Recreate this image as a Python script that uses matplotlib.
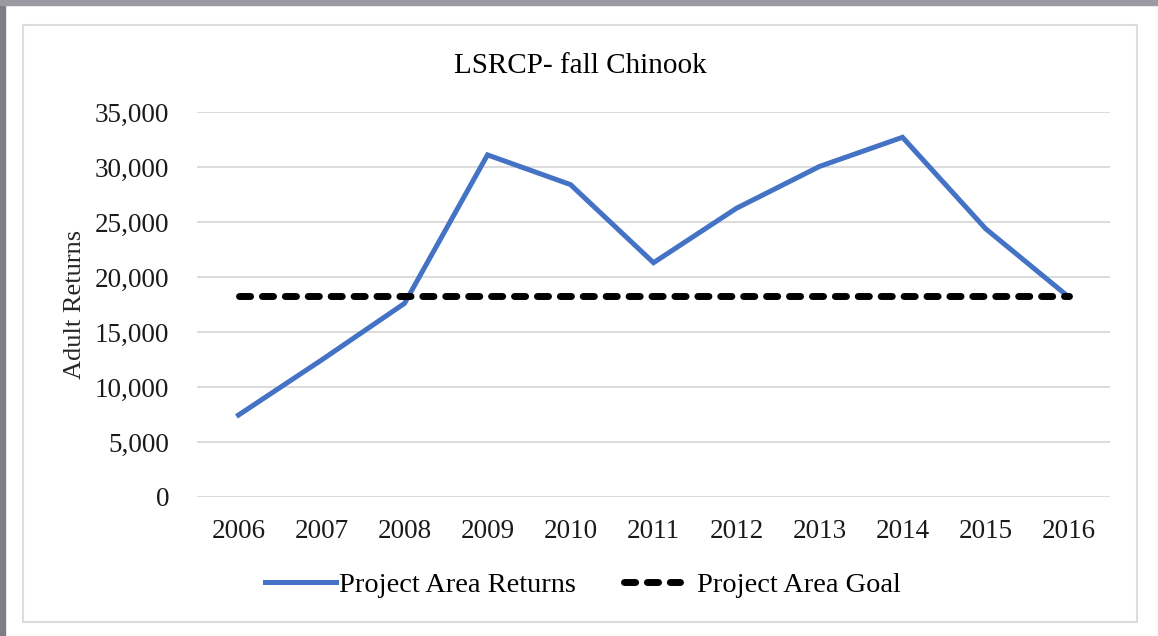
import matplotlib
matplotlib.use('Agg')
import matplotlib.pyplot as plt
import numpy as np
from matplotlib.patches import Rectangle
from matplotlib.ticker import FuncFormatter

years = ['2006', '2007', '2008', '2009', '2010', '2011',
         '2012', '2013', '2014', '2015', '2016']
returns = [7450, 12450, 17600, 31100, 28400, 21300,
           26250, 30050, 32700, 24400, 18200]
goal = [18300] * len(years)

plt.rcParams['font.family'] = ['Liberation Serif', 'DejaVu Serif']

fig = plt.figure(figsize=(11.58, 6.36), dpi=100)
W, H = 1158, 636

# outer screenshot frame bits
fig.patches.append(Rectangle((0, 0), 5 / W, 1, transform=fig.transFigure,
                             color='#807d86', zorder=0))
fig.patches.append(Rectangle((0, 1 - 5 / H), 1, 5 / H, transform=fig.transFigure,
                             color='#9b99a1', zorder=0))
# chart border
fig.patches.append(Rectangle((23 / W, 1 - 622 / H), (1137 - 23) / W, (622 - 25) / H,
                             transform=fig.transFigure, fill=False,
                             edgecolor='#dcdcdc', lw=1.5, zorder=1))

ax = fig.add_axes([197 / W, 1 - 497 / H, (1110 - 197) / W, (497 - 112) / H])

x = list(range(len(years)))
ax.plot(x, returns, color='#4472C4', lw=3.6, solid_joinstyle='miter',
        label='Project Area Returns', zorder=3)
ax.plot(x, goal, color='black', lw=5, linestyle=(0, (1.6, 1.7)),
        dash_capstyle='round', label='Project Area Goal', zorder=4)

ax.set_xlim(-0.5, len(years) - 0.5)
ax.set_ylim(0, 35000)
ax.set_yticks(range(0, 35001, 5000))
ax.yaxis.set_major_formatter(FuncFormatter(lambda v, p: f'{int(v):,}'))
ax.set_xticks(x)
ax.set_xticklabels(years)
ax.tick_params(axis='both', length=0, labelsize=19.5, colors='#1a1a1a')
ax.tick_params(axis='y', pad=20)
ax.tick_params(axis='x', pad=16)
ax.grid(axis='y', color='#d9d9d9', lw=1.3)
ax.set_axisbelow(True)
for s in ax.spines.values():
    s.set_visible(False)

ax.set_ylabel('Adult Returns', fontsize=19, color='#262626')
ax.yaxis.set_label_coords(-0.122, 0.5)

fig.text(580 / W, 1 - 66 / H, 'LSRCP- fall Chinook', ha='center', va='center',
         fontsize=21, color='black')

leg = fig.legend(loc='center', bbox_to_anchor=(583 / W, 1 - 585 / H), ncol=2,
                 frameon=False, fontsize=20.4, handlelength=2.5, handletextpad=0.1,
                 columnspacing=1.7)
# shorten the dashed handle a little so it ends on a full dash
gl = leg.get_lines()[1]
xd = np.asarray(gl.get_xdata(), dtype=float)
gl.set_xdata(np.linspace(xd[0], xd[0] + (xd[-1] - xd[0]) * 0.8, len(xd)))

fig.savefig('out.png', dpi=100, facecolor='white')
